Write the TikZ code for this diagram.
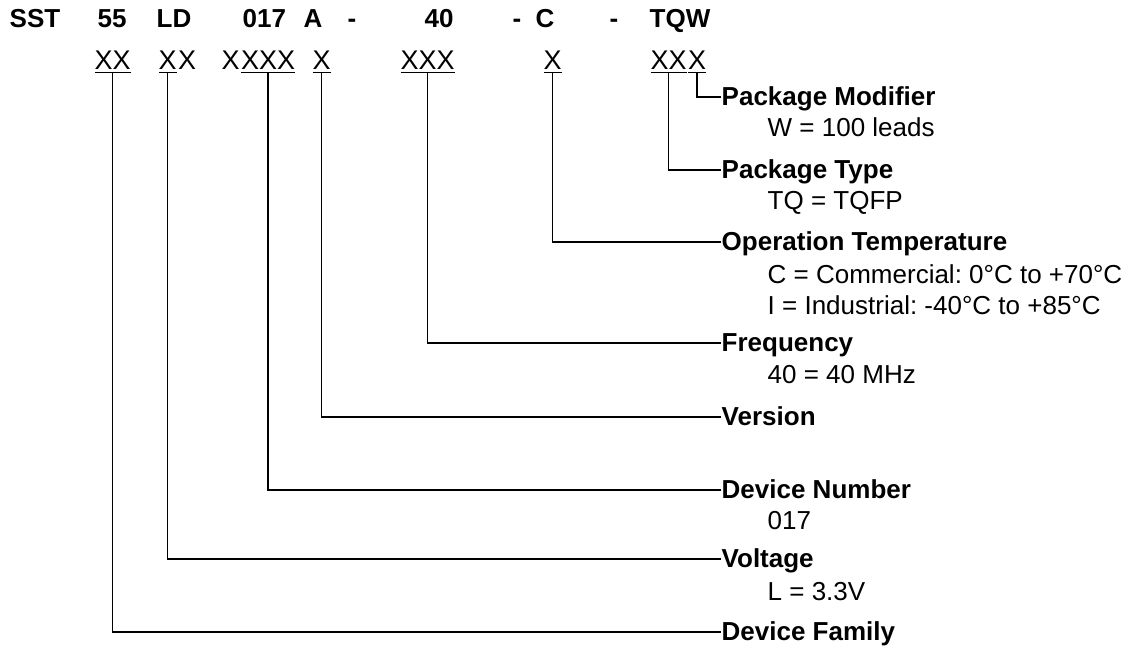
\documentclass[tikz,border=0pt]{standalone}
\usepackage{fontspec}
\setmainfont{Liberation Sans}
\usetikzlibrary{positioning}
\frenchspacing

\begin{document}
\begin{tikzpicture}[x=0.5pt, y=-0.5pt, line width=0.7pt,
  every node/.style={font=\fontsize{13}{15}\selectfont, inner sep=0pt},
  part/.style={anchor=base west, font=\fontsize{13}{15}\selectfont\bfseries},
  slot/.style={anchor=base west, text height=9.3pt, text depth=1.5pt, font=\fontsize{13.5}{15}\selectfont},
  field/.style={anchor=west, text height=8pt, text depth=0pt, font=\fontsize{13}{15}\selectfont\bfseries},
  val/.style={anchor=base west},
  uline/.style={shorten <=0.4pt, shorten >=0.4pt}]
\useasboundingbox (0,0) rectangle (1134,649);

% the part number
\node[part] (sst) at (9,27) {SST};
\node[part] (n55) at (97,27) {55};
\node[part] (ld) at (156,27) {LD};
\node[part] (n017) at (242,27) {017};
\node[part] (a) at (303,27) {A};
\node[part] (d1) at (347,27) {-};
\node[part] (n40) at (424,27) {40};
\node[part] (d2) at (512,27) {-};
\node[part] (c) at (535,27) {C};
\node[part] (d3) at (609,27) {-};
\node[part] (tqw) at (649,27) {TQW};

% the slots
\node[slot] (fam) at (94,69) {XX};
\node[slot] (volt) at (158,69) {X};
\node[slot, right=0pt of volt] (volt2) {X};
\node[slot] (dev1) at (221,69) {X};
\node[slot, right=0pt of dev1] (dev) {XXX};
\node[slot] (ver) at (312,69) {X};
\node[slot] (freq) at (400,69) {XXX};
\node[slot] (temp) at (543,69) {X};
\node[slot] (pkg) at (650,69) {XX};
\node[slot, right=0pt of pkg] (mod) {X};
\foreach \n in {fam,volt,dev,ver,freq,temp,pkg,mod}
  \draw[uline] (\n.south west) -- (\n.south east);

% the fields
\node[field] (fmod) at (721,97) {Package Modifier};
\node[below right=15.5pt and 23pt of fmod.base west, val] (vmod) {W = 100 leads};
\node[field] (fpkg) at (721,170) {Package Type};
\node[below right=15.5pt and 23pt of fpkg.base west, val] (vpkg) {TQ = TQFP};
\node[field] (ftemp) at (721,242) {Operation Temperature};
\node[below right=16.5pt and 23pt of ftemp.base west, val] (vtemp) {C = Commercial: 0°C to +70°C};
\node[below=15.5pt of vtemp.base west, val] (vtemp2) {I = Industrial: -40°C to +85°C};
\node[field] (ffreq) at (721,343) {Frequency};
\node[below right=16pt and 23pt of ffreq.base west, val] (vfreq) {40 = 40 MHz};
\node[field] (fver) at (721,417) {Version};
\node[field] (fdev) at (721,490) {Device Number};
\node[below right=15.5pt and 23pt of fdev.base west, val] (vdev) {017};
\node[field] (fvolt) at (721,559) {Voltage};
\node[below right=16.5pt and 23pt of fvolt.base west, val] (vvolt) {L = 3.3V};
\node[field] (ffam) at (721,632) {Device Family};

% connectors
\draw (mod.south) |- (fmod.west);
\draw (pkg.south) |- (fpkg.west);
\draw (temp.south) |- (ftemp.west);
\draw (freq.south) |- (ffreq.west);
\draw (ver.south) |- (fver.west);
\draw (dev.south) |- (fdev.west);
\draw (volt.south) |- (fvolt.west);
\draw (fam.south) |- (ffam.west);
\end{tikzpicture}
\end{document}
